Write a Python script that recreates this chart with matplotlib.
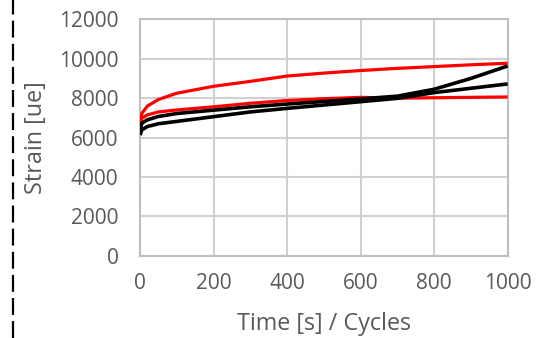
import matplotlib
matplotlib.use("Agg")
import matplotlib.pyplot as plt
from matplotlib.lines import Line2D

# Creep strain histories: time in seconds / cycles, strain in microstrain
time = [0, 5, 20, 50, 100, 200, 300, 400, 500, 600, 700, 800, 900, 1000]

red_upper = [6800, 7230, 7600, 7930, 8250, 8600, 8850, 9120, 9270, 9400, 9510, 9600, 9690, 9770]
red_lower = [6650, 6980, 7150, 7300, 7400, 7560, 7740, 7880, 7970, 8040, 8000, 8020, 8040, 8060]
black_a = [6350, 6730, 6900, 7070, 7220, 7390, 7560, 7700, 7830, 7960, 8100, 8450, 9000, 9630]
black_b = [6130, 6390, 6560, 6700, 6820, 7060, 7300, 7480, 7650, 7820, 7990, 8280, 8500, 8720]

x_ticks = [0, 200, 400, 600, 800, 1000]
y_ticks = [0, 2000, 4000, 6000, 8000, 10000, 12000]

plt.rcParams["font.family"] = ["Open Sans", "DejaVu Sans"]
text_color = "#595959"
grid_color = "#d0d0d0"

fig = plt.figure(figsize=(5.47, 3.38), dpi=100)
ax = fig.add_axes([0.256, 0.243, 0.672, 0.700])

ax.plot(time, red_upper, color="#ff0000", lw=2.3, solid_capstyle="butt", zorder=3)
ax.plot(time, red_lower, color="#ff0000", lw=2.3, solid_capstyle="butt", zorder=3)
ax.plot(time, black_b, color="#000000", lw=2.6, solid_capstyle="butt", zorder=4)
ax.plot(time, black_a, color="#000000", lw=2.6, solid_capstyle="butt", zorder=4)

ax.set_xlim(0, 1000)
ax.set_ylim(0, 12000)
ax.set_xticks(x_ticks)
ax.set_yticks(y_ticks)
ax.set_xticklabels([str(v) for v in x_ticks])
ax.set_yticklabels([str(v) for v in y_ticks])
ax.xaxis.set_tick_params(length=0, labelsize=15, labelcolor=text_color, pad=12)
ax.yaxis.set_tick_params(length=0, labelsize=15, labelcolor=text_color, pad=15.5)

ax.grid(True, color=grid_color, lw=1.5, zorder=0)
ax.set_axisbelow(True)
for s in ax.spines.values():
    s.set_color("#bfbfbf")
    s.set_linewidth(1.5)

ax.set_xlabel("Time [s] / Cycles", fontsize=16.8, color=text_color, labelpad=13)
ax.set_ylabel("Strain [ue]", fontsize=16.8, color=text_color, labelpad=8)

# Dashed separator along the left edge of the figure
fig.add_artist(Line2D([13 / 547, 13 / 547], [0, 1], transform=fig.transFigure,
                      color="black", lw=1.6, linestyle=(0, (7.6, 2.8))))

fig.savefig("out.png", dpi=100)
